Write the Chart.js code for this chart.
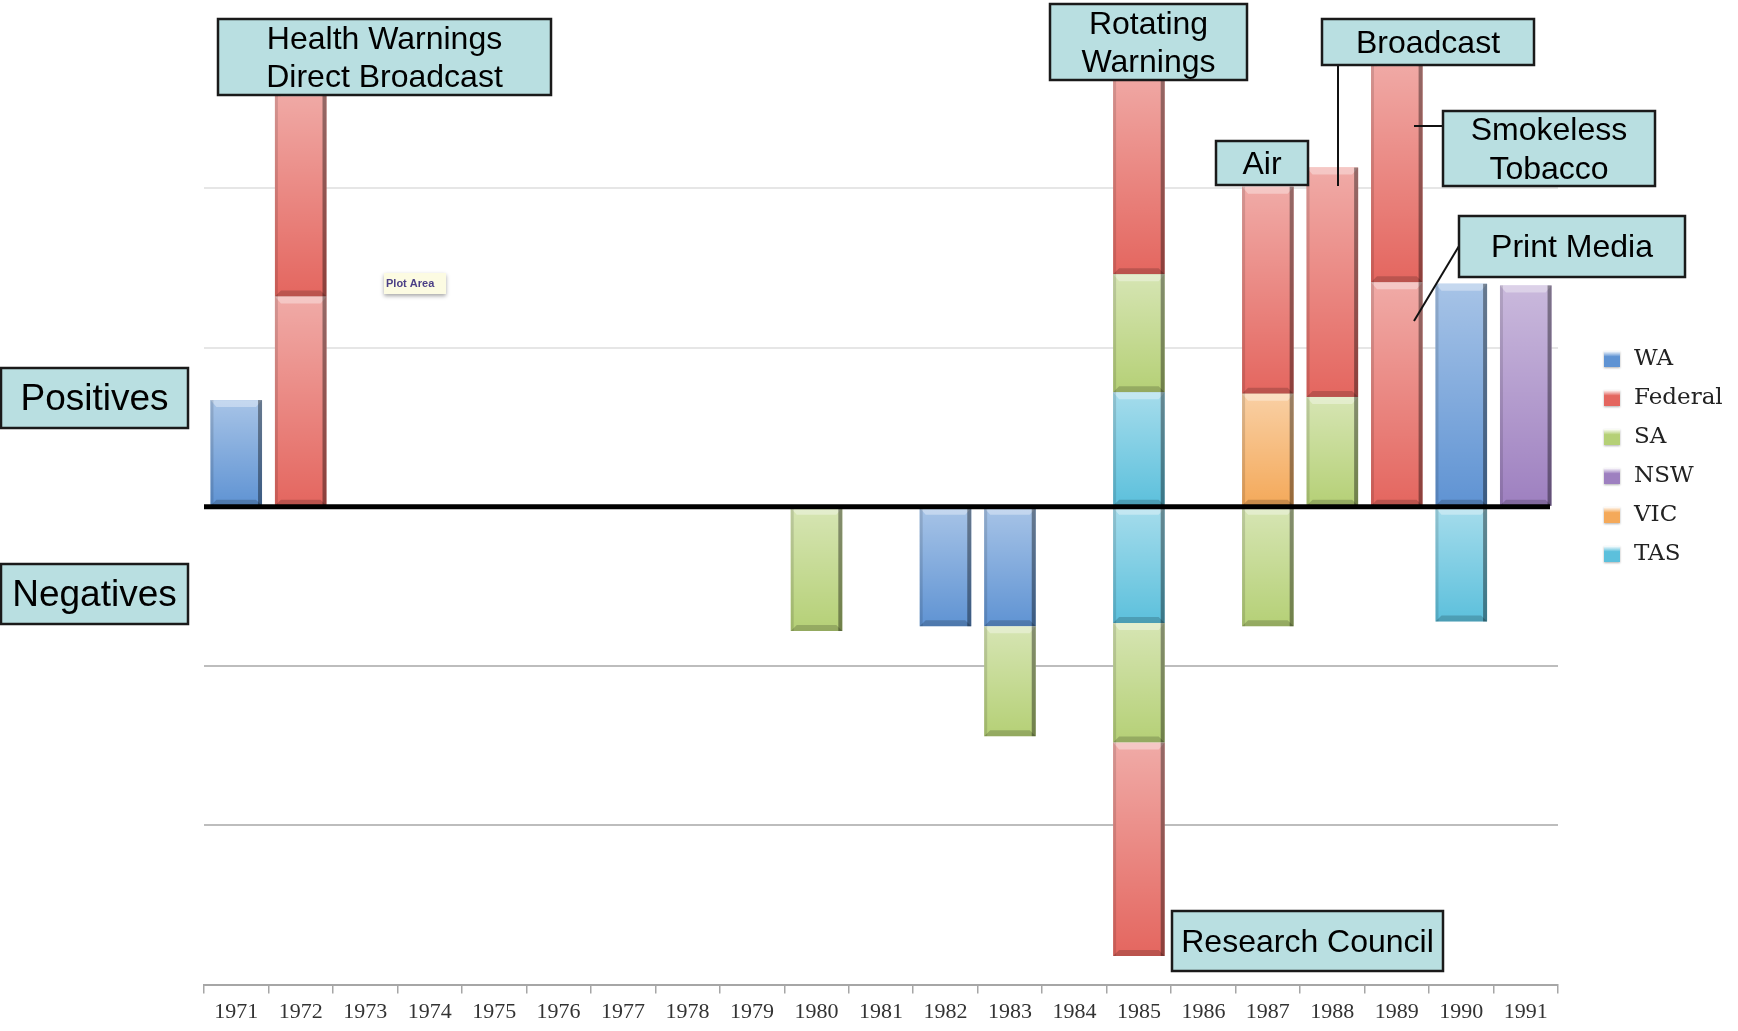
<!DOCTYPE html>
<html>
<head>
<meta charset="utf-8">
<title>Tobacco control events by jurisdiction, 1971-1991</title>
<script src="https://cdn.jsdelivr.net/npm/chart.js@4.4.1/dist/chart.umd.min.js"></script>
<style>
  html, body { margin: 0; padding: 0; background: #fff; }
  canvas { display: block; }
</style>
</head>
<body>
<canvas id="chart" width="1738" height="1031"></canvas>
<script>
const years = ['1971', '1972', '1973', '1974', '1975', '1976', '1977', '1978', '1979', '1980', '1981',
  '1982', '1983', '1984', '1985', '1986', '1987', '1988', '1989', '1990', '1991'];

// heights, one gridline = 1
const waValues = [0.67, null, null, null, null, null, null, null, null, null, null,
  -0.75, -0.75, null, null, null, null, null, null, 1.4, null];
const tasPositive = [null, null, null, null, null, null, null, null, null, null, null,
  null, null, null, 0.72, null, null, null, null, null, null];
const tasNegative = [null, null, null, null, null, null, null, null, null, null, null,
  null, null, null, -0.73, null, null, null, null, -0.72, null];
const vicPositive = [null, null, null, null, null, null, null, null, null, null, null,
  null, null, null, null, null, 0.71, null, null, null, null];
const saPositive = [null, null, null, null, null, null, null, null, null, null, null,
  null, null, null, 0.74, null, null, 0.69, null, null, null];
const saNegative = [null, null, null, null, null, null, null, null, null, -0.78, null,
  null, -0.69, null, -0.75, null, -0.75, null, null, null, null];
const nswPositive = [null, null, null, null, null, null, null, null, null, null, null,
  null, null, null, null, null, null, null, null, null, 1.39];
const federalPositive = [null, 1.32, null, null, null, null, null, null, null, null, null,
  null, null, null, 1.3, null, 1.3, 1.44, 1.41, null, null];
const federalSecond = [null, 1.3, null, null, null, null, null, null, null, null, null,
  null, null, null, null, null, null, null, 1.4, null, null];
const federalNegative = [null, null, null, null, null, null, null, null, null, null, null,
  null, null, null, -1.34, null, null, null, null, null, null];

const legendOrder = ['WA', 'Federal', 'SA', 'NSW', 'VIC', 'TAS'];
const colors = {
  WA: '#5f93d3',
  Federal: '#e4665f',
  SA: '#b5d076',
  NSW: '#9e80c0',
  VIC: '#f4a95a',
  TAS: '#5cc0dc'
};

// callout boxes: text lines, box rectangle
const callouts = [
  { lines: ['Health Warnings', 'Direct Broadcast'], x: 218, y: 19, w: 333, h: 76, size: 32 },
  { lines: ['Positives'], x: 1, y: 368, w: 187, h: 60, size: 37 },
  { lines: ['Negatives'], x: 1, y: 564, w: 187, h: 60, size: 37 },
  { lines: ['Rotating', 'Warnings'], x: 1050, y: 4, w: 197, h: 76, size: 32 },
  { lines: ['Broadcast'], x: 1322, y: 19, w: 212, h: 46, size: 32 },
  { lines: ['Air'], x: 1216, y: 141, w: 92, h: 44, size: 32 },
  { lines: ['Smokeless', 'Tobacco'], x: 1443, y: 111, w: 212, h: 75, size: 32 },
  { lines: ['Print Media'], x: 1459, y: 216, w: 226, h: 61, size: 32 },
  { lines: ['Research Council'], x: 1172, y: 911, w: 271, h: 60, size: 32 }
];
const connectors = [
  [1338, 65, 1338, 186],
  [1414, 126, 1443, 126],
  [1459, 246, 1414, 321]
];

const makeSet = (label, data) => ({
  label: label,
  data: data,
  backgroundColor: colors[label],
  borderWidth: 0,
  stack: 'events'
});

const datasets = [
  makeSet('WA', waValues),
  makeSet('TAS', tasPositive),
  makeSet('TAS', tasNegative),
  makeSet('VIC', vicPositive),
  makeSet('SA', saPositive),
  makeSet('SA', saNegative),
  makeSet('NSW', nswPositive),
  makeSet('Federal', federalPositive),
  makeSet('Federal', federalSecond),
  makeSet('Federal', federalNegative)
];

// shaded, bevelled look of the old office charts + the thick zero line on top
const bevelPlugin = {
  id: 'bevel',
  afterDatasetsDraw(chart) {
    const ctx = chart.ctx;
    ctx.save();
    chart.data.datasets.forEach((ds, di) => {
      const meta = chart.getDatasetMeta(di);
      meta.data.forEach((bar, i) => {
        if (ds.data[i] == null) return;
        const p = bar.getProps(['x', 'y', 'base', 'width'], true);
        const left = p.x - p.width / 2;
        const top = Math.min(p.y, p.base);
        const h = Math.abs(p.base - p.y);
        const w = p.width;
        const g = ctx.createLinearGradient(0, top, 0, top + h);
        g.addColorStop(0, 'rgba(255,255,255,0.45)');
        g.addColorStop(1, 'rgba(255,255,255,0)');
        ctx.fillStyle = g;
        ctx.fillRect(left, top, w, h);
        // top highlight
        ctx.fillStyle = 'rgba(255,255,255,0.35)';
        ctx.beginPath();
        ctx.moveTo(left, top);
        ctx.lineTo(left + w, top);
        ctx.lineTo(left + w - 6, top + 7);
        ctx.lineTo(left + 6, top + 7);
        ctx.closePath();
        ctx.fill();
        // bottom shade
        ctx.fillStyle = 'rgba(0,0,0,0.18)';
        ctx.beginPath();
        ctx.moveTo(left, top + h);
        ctx.lineTo(left + w, top + h);
        ctx.lineTo(left + w - 6, top + h - 6);
        ctx.lineTo(left + 6, top + h - 6);
        ctx.closePath();
        ctx.fill();
        // side edges
        ctx.fillStyle = 'rgba(0,0,0,0.38)';
        ctx.fillRect(left + w - 4, top, 4, h);
        ctx.fillStyle = 'rgba(0,0,0,0.12)';
        ctx.fillRect(left, top, 3, h);
      });
    });
    const y0 = chart.scales.y.getPixelForValue(0);
    ctx.strokeStyle = '#000';
    ctx.lineWidth = 5;
    ctx.beginPath();
    ctx.moveTo(chart.chartArea.left, y0);
    ctx.lineTo(chart.chartArea.right - 8, y0);
    ctx.stroke();
    ctx.restore();
  }
};

const calloutPlugin = {
  id: 'callouts',
  afterDraw(chart) {
    const ctx = chart.ctx;
    ctx.save();
    // leftover "Plot Area" tip from the spreadsheet
    ctx.shadowColor = 'rgba(0,0,0,0.35)';
    ctx.shadowBlur = 4;
    ctx.shadowOffsetY = 2;
    ctx.fillStyle = '#fcfbe2';
    ctx.fillRect(384, 273, 62, 21);
    ctx.shadowColor = 'transparent';
    ctx.font = 'bold 11px "Liberation Sans", Arial, sans-serif';
    ctx.fillStyle = '#4b3f86';
    ctx.textAlign = 'left';
    ctx.textBaseline = 'middle';
    ctx.fillText('Plot Area', 386, 284);

    ctx.strokeStyle = '#111';
    ctx.lineWidth = 2;
    connectors.forEach(c => {
      ctx.beginPath();
      ctx.moveTo(c[0], c[1]);
      ctx.lineTo(c[2], c[3]);
      ctx.stroke();
    });

    callouts.forEach(b => {
      ctx.fillStyle = '#b9dfe1';
      ctx.fillRect(b.x, b.y, b.w, b.h);
      ctx.lineWidth = 2.5;
      ctx.strokeStyle = '#1a1a1a';
      ctx.strokeRect(b.x, b.y, b.w, b.h);
      ctx.fillStyle = '#000';
      ctx.font = b.size + 'px "Liberation Sans", Arial, sans-serif';
      ctx.textAlign = 'center';
      ctx.textBaseline = 'middle';
      const lineH = b.size * 1.2;
      const cy = b.y + b.h / 2 - (b.lines.length - 1) * lineH / 2 + 2;
      b.lines.forEach((t, k) => ctx.fillText(t, b.x + b.w / 2, cy + k * lineH));
    });

    // legend on the right
    legendOrder.forEach((name, k) => {
      const y = 359 + k * 39;
      const g = ctx.createLinearGradient(0, y - 8, 0, y + 8);
      g.addColorStop(0, '#ffffff');
      g.addColorStop(0.35, colors[name]);
      g.addColorStop(1, colors[name]);
      ctx.shadowColor = 'rgba(0,0,0,0.3)';
      ctx.shadowBlur = 2;
      ctx.shadowOffsetY = 1;
      ctx.fillStyle = g;
      ctx.fillRect(1604, y - 8, 16, 16);
      ctx.shadowColor = 'transparent';
      ctx.fillStyle = '#222';
      ctx.font = '23px "DejaVu Serif", serif';
      ctx.textAlign = 'left';
      ctx.textBaseline = 'middle';
      ctx.fillText(name, 1634, y);
    });
    ctx.restore();
  }
};

new Chart(document.getElementById('chart'), {
  type: 'bar',
  data: { labels: years, datasets: datasets },
  options: {
    responsive: false,
    animation: false,
    devicePixelRatio: 1,
    layout: { padding: { left: 204, right: 180, top: 29, bottom: 0 } },
    plugins: {
      legend: { display: false },
      tooltip: { enabled: false }
    },
    datasets: {
      bar: { barPercentage: 0.8, categoryPercentage: 1 }
    },
    scales: {
      x: {
        stacked: true,
        grid: {
          drawOnChartArea: false,
          tickLength: 9,
          color: '#a6a6a6',
          lineWidth: 1.5
        },
        border: { color: '#a6a6a6', width: 2 },
        ticks: {
          padding: 11,
          color: '#333',
          font: { family: '"Liberation Serif", serif', size: 22, lineHeight: 0.7 },
          maxRotation: 0,
          autoSkip: false
        }
      },
      y: {
        stacked: true,
        min: -3,
        max: 3,
        ticks: { display: false, stepSize: 1 },
        border: { display: false },
        grid: {
          drawTicks: false,
          lineWidth: 2,
          color: (c) => {
            const v = c.tick ? c.tick.value : 0;
            if (v === 0 || v === 3 || v === -3) return 'rgba(0,0,0,0)';
            return v > 0 ? '#e6e6e6' : '#bdbdbd';
          }
        }
      }
    }
  },
  plugins: [bevelPlugin, calloutPlugin]
});
</script>
</body>
</html>
